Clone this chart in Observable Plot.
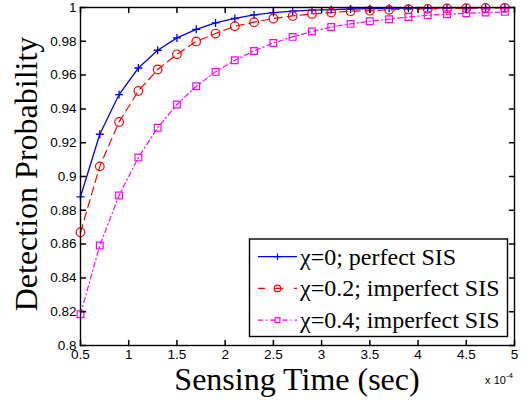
<!DOCTYPE html>
<html><head><meta charset="utf-8">
<script src="https://cdn.jsdelivr.net/npm/d3@7"></script>
<script src="https://cdn.jsdelivr.net/npm/@observablehq/plot@0.6"></script>
<style>body{margin:0;background:#fff} #chart{width:529px;height:400px}</style>
</head><body><div id="chart"></div>
<script>
// Sensing time, in units of 1e-4 sec
const sensingTime = [0.5,0.7,0.9,1.1,1.3,1.5,1.7,1.9,2.1,2.3,2.5,2.7,2.9,3.1,3.3,3.5,3.7,3.9,4.1,4.3,4.5,4.7,4.9];
const chi0  = [0.888,0.925,0.9485,0.9642,0.9747,0.982,0.9871,0.9909,0.9935,0.9956,0.997,0.9978,0.9984,0.9988,0.9991,0.9993,0.9995,0.9996,0.9997,0.9998,0.9998,0.9999,0.9999];
const chi02 = [0.867,0.906,0.9323,0.9506,0.9633,0.9723,0.9799,0.9846,0.9889,0.9913,0.9935,0.995,0.9962,0.997,0.9978,0.9981,0.9986,0.999,0.9992,0.9994,0.9996,0.9997,0.9998];
const chi04 = [0.8185,0.8592,0.8888,0.9113,0.9289,0.9426,0.9534,0.9619,0.9688,0.9743,0.979,0.9826,0.9858,0.9885,0.9903,0.9919,0.9931,0.9944,0.9954,0.996,0.9966,0.997,0.9974];
const seriesNames = ["χ=0; perfect SIS","χ=0.2; imperfect SIS","χ=0.4; imperfect SIS"];
const xTicks = [0.5,1,1.5,2,2.5,3,3.5,4,4.5,5];
const xTickLabels = ["0.5","1","1.5","2","2.5","3","3.5","4","4.5","5"];
const yTicks = [0.8,0.82,0.84,0.86,0.88,0.9,0.92,0.94,0.96,0.98,1];
const yTickLabels = ["0.8","0.82","0.84","0.86","0.88","0.9","0.92","0.94","0.96","0.98","1"];

const colors = ["#0000ff","#ff0000","#ff00ff"];
const dashes = [null,"8,5","5,3,1.2,3"];
const seriesValues = [chi0, chi02, chi04];
const serif = "'Liberation Serif','Times New Roman',serif";
const sans = "'Liberation Sans',Arial,Helvetica,sans-serif";

const rows = seriesValues.map((vals, s) => sensingTime.map((t, i) => ({t, p: vals[i], s})));

const plusSymbol = {draw(ctx, size){const r = Math.sqrt(size/Math.PI); ctx.moveTo(-r,0); ctx.lineTo(r,0); ctx.moveTo(0,-r); ctx.lineTo(0,r);}};
const tickShape = {draw(ctx, l){ctx.moveTo(0,0); ctx.lineTo(0,-l);}};
const xLab = new Map(xTicks.map((d,i)=>[d,xTickLabels[i]]));
const yLab = new Map(yTicks.map((d,i)=>[d,yTickLabels[i]]));

const marks = [];
rows.forEach((r, s) => {
  marks.push(Plot.line(r, {x:"t", y:"p", stroke: colors[s], strokeWidth: s===0?1.3:1.2, strokeDasharray: dashes[s]}));
});
marks.push(Plot.dot(rows[0], {x:"t", y:"p", symbol: plusSymbol, r: 4, stroke: colors[0], strokeWidth: 1.3, fill: "none"}));
marks.push(Plot.dot(rows[1], {x:"t", y:"p", symbol: "circle", r: 4.3, stroke: colors[1], strokeWidth: 1.2, fill: "none"}));
marks.push(Plot.dot(rows[2], {x:"t", y:"p", symbol: "square", r: 3.8, stroke: colors[2], strokeWidth: 1.2, fill: "none"}));
// inward ticks on all four sides
marks.push(Plot.vector(xTicks, {x: d=>d, frameAnchor:"bottom", length: 5, rotate: 0, anchor:"start", shape: tickShape, stroke:"black"}));
marks.push(Plot.vector(xTicks, {x: d=>d, frameAnchor:"top", length: 5, rotate: 180, anchor:"start", shape: tickShape, stroke:"black"}));
marks.push(Plot.vector(yTicks, {y: d=>d, frameAnchor:"left", length: 5, rotate: 90, anchor:"start", shape: tickShape, stroke:"black"}));
marks.push(Plot.vector(yTicks, {y: d=>d, frameAnchor:"right", length: 5, rotate: -90, anchor:"start", shape: tickShape, stroke:"black"}));
marks.push(Plot.axisX(xTicks, {tickSize: 0, tickPadding: 4, tickFormat: d=>xLab.get(d), fontSize: 13.5, fontFamily: sans, fill: "black", label: null}));
marks.push(Plot.axisY(yTicks, {tickSize: 0, tickPadding: 4, tickFormat: d=>yLab.get(d), fontSize: 13.5, fontFamily: sans, fill: "black", label: null}));
marks.push(Plot.frame({stroke: "black", strokeWidth: 1.4}));

const chart = Plot.plot({
  width: 529, height: 400,
  marginLeft: 80, marginRight: 15, marginTop: 7, marginBottom: 55,
  style: {background: "#fff", color: "black", overflow: "visible"},
  x: {domain: [0.5, 5], label: null},
  y: {domain: [0.8, 1], label: null},
  marks
});
document.getElementById("chart").appendChild(chart);

const svg = d3.select(chart);
// axis labels
svg.append("text").attr("transform","translate(37,174) rotate(-90)").attr("text-anchor","middle")
  .attr("font-family",serif).attr("font-size",32).attr("fill","black").text("Detection Probability");
svg.append("text").attr("x",297).attr("y",390).attr("text-anchor","middle")
  .attr("font-family",serif).attr("font-size",32).attr("fill","black").text("Sensing Time (sec)");
const ex = svg.append("text").attr("x",513).attr("y",384).attr("text-anchor","end")
  .attr("font-family",sans).attr("font-size",11).attr("fill","black");
ex.append("tspan").text("x 10");
ex.append("tspan").attr("dy",-6).attr("font-size",8).text("-4");

// legend
const lg = svg.append("g").attr("text-anchor","start");
lg.append("rect").attr("x",249.5).attr("y",239).attr("width",258).attr("height",97.5)
  .attr("fill","white").attr("stroke","black").attr("stroke-width",1.4);
seriesNames.forEach((name, s) => {
  const y = 256.7 + s*31.7;
  lg.append("line").attr("x1",258).attr("x2",297).attr("y1",y).attr("y2",y)
    .attr("stroke",colors[s]).attr("stroke-width",1.2).attr("stroke-dasharray", s===1 ? "7,11" : dashes[s]);
  const cx = 277.5;
  if (s===0) lg.append("path").attr("d",`M${cx-3.3},${y}H${cx+3.3}M${cx},${y-3.3}V${y+3.3}`).attr("stroke",colors[0]).attr("stroke-width",1.2);
  if (s===1) lg.append("circle").attr("cx",cx).attr("cy",y).attr("r",3.3).attr("fill","none").attr("stroke",colors[1]).attr("stroke-width",1.2);
  if (s===1) lg.append("line").attr("x1",cx-3.3).attr("x2",cx+3.3).attr("y1",y).attr("y2",y).attr("stroke",colors[1]).attr("stroke-width",1.2);
  if (s===2) lg.append("rect").attr("x",cx-2.4).attr("y",y-2.4).attr("width",4.8).attr("height",4.8).attr("fill","white").attr("stroke",colors[2]).attr("stroke-width",1.2);
  lg.append("text").attr("x",300).attr("y",y+8).attr("text-anchor","start").attr("font-family",serif).attr("font-size",24).attr("fill","black").text(name);
});
</script>
</body></html>
